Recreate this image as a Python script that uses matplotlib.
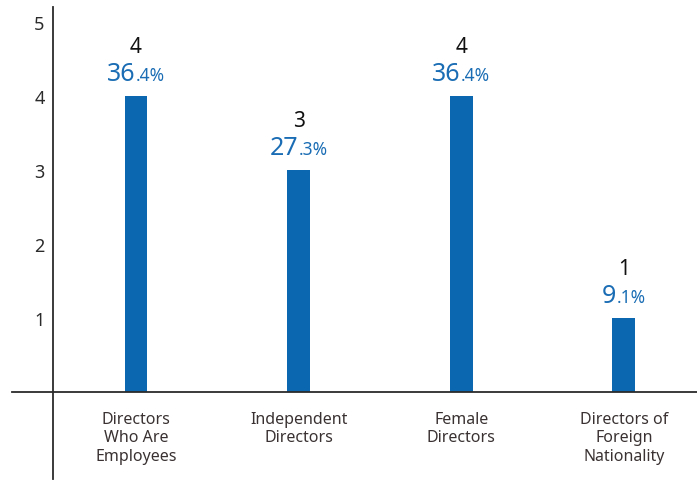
import matplotlib
matplotlib.use("Agg")
import matplotlib.pyplot as plt
from matplotlib.offsetbox import TextArea, HPacker, AnnotationBbox

plt.rcParams["font.family"] = ["Noto Sans", "DejaVu Sans"]

categories = ["Directors\nWho Are\nEmployees", "Independent\nDirectors",
              "Female\nDirectors", "Directors of\nForeign\nNationality"]
counts = [4, 3, 4, 1]
pct_whole = ["36", "27", "36", "9"]
pct_frac = [".4%", ".3%", ".4%", ".1%"]
yticks = [1, 2, 3, 4, 5]

BLUE = "#0b67b0"
TXT_BLUE = "#1a6db4"
DARK = "#2b2b2b"

fig = plt.figure(figsize=(6.97, 4.81), dpi=100)
W, H = 697, 481
ax = fig.add_axes([53 / W, 1 / H, (W - 53) / W, (480 - 8) / H])

x = list(range(len(categories)))
ax.bar(x, counts, width=0.14, color=BLUE, zorder=2)

ax.set_xlim(-0.51, 3.45)
ax.set_ylim(-1.18, 5.2)

for s in ["top", "right", "bottom"]:
    ax.spines[s].set_visible(False)
ax.spines["left"].set_color(DARK)
ax.spines["left"].set_linewidth(1.3)
# baseline runs past the y axis on the left
ax.axhline(0, xmin=-(53 - 12) / (W - 53), xmax=1, color=DARK, lw=1.3,
           clip_on=False, zorder=3)

ax.set_xticks([])
ax.set_yticks(yticks)
ax.set_yticklabels([str(t) for t in yticks], fontsize=13, color=DARK)
ax.tick_params(axis="y", length=0, pad=6)

for xi, c, whole, frac, lab in zip(x, counts, pct_whole, pct_frac, categories):
    ax.annotate(str(c), (xi, c), xytext=(0, 49), textcoords="offset pixels",
                ha="center", va="center", fontsize=15, color="#111111")
    box = HPacker(children=[
        TextArea(whole, textprops=dict(fontsize=18, color=TXT_BLUE)),
        TextArea(frac, textprops=dict(fontsize=12.5, color=TXT_BLUE)),
    ], align="baseline", pad=0, sep=0)
    ab = AnnotationBbox(box, (xi, c), xybox=(0, 10), boxcoords="offset pixels",
                        box_alignment=(0.5, 0), frameon=False, pad=0)
    ax.add_artist(ab)
    ax.annotate(lab, (xi, 0), xytext=(0, -19), textcoords="offset pixels",
                ha="center", va="top", fontsize=11.5, color="#3a3232",
                linespacing=1.22)

fig.savefig("out.png", dpi=100)
